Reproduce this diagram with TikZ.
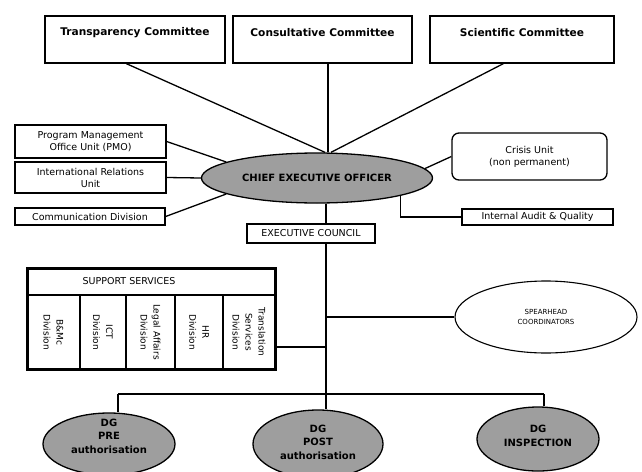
\documentclass[tikz,border=0pt]{standalone}
\usepackage{fontspec}
\setmainfont{DejaVu Sans}
\usetikzlibrary{shapes.geometric,calc}
\definecolor{ellgray}{gray}{0.62}
\tikzset{
  box/.style={draw, line width=1.3pt, rectangle, inner sep=0pt},
  txt/.style={inner sep=0pt, align=center, font=\fontsize{9.5}{12}\selectfont},
  btxt/.style={inner sep=0pt, align=center, font=\fontsize{10}{13.5}\selectfont\bfseries},
  toptxt/.style={inner sep=0pt, align=center, font=\fontsize{10.6}{13}\selectfont\bfseries},
  gell/.style={draw, line width=1.3pt, ellipse, fill=ellgray, inner sep=0pt},
  conn/.style={line width=1.3pt},
  coltxt/.style={inner sep=0pt, align=center, rotate=-90, font=\fontsize{9}{13}\selectfont},
}
\begin{document}
\begin{tikzpicture}[x=1pt,y=-1pt]
\useasboundingbox (0,0) rectangle (642,471);
% top committees
\node[box, minimum width=180, minimum height=47] (trans) at (135,39.5) {};
\node[toptxt] (transt) at (135,33) {Transparency Committee};
\node[box, minimum width=179, minimum height=47] (cons) at (322.5,39.5) {};
\node[toptxt] (const) at (322.5,33) {Consultative Committee};
\node[box, minimum width=184, minimum height=47] (sci) at (522,39.5) {};
\node[toptxt] (scit) at (522,33) {Scientific Committee};
% CEO
\node[gell, minimum width=231, minimum height=50] (ceo) at (317,178) {};
\node[btxt] (ceot) at (317,178) {CHIEF EXECUTIVE OFFICER};
% left boxes
\node[box, minimum width=151, minimum height=33, txt] (pmo) at (90.5,141.5) {Program Management\\Office Unit (PMO)};
\node[box, minimum width=151, minimum height=31, txt] (ir) at (90.5,177.5) {International Relations\\Unit};
\node[box, minimum width=150, minimum height=17, txt] (comm) at (90,216.5) {Communication Division};
% right boxes
\node[draw, line width=1.3pt, rounded corners=7pt, minimum width=155, minimum height=47, txt] (crisis) at (529.5,156.5) {Crisis Unit\\(non permanent)};
\node[box, line width=2.2pt, minimum width=151, minimum height=16, txt] (audit) at (537.5,217) {Internal Audit \& Quality};
% executive council
\node[box, minimum width=128, minimum height=19, txt] (exec) at (311,233.5) {EXECUTIVE COUNCIL};
% support services
\node[box, minimum width=248, minimum height=27] (supph) at (151,281.5) {};
\node[txt] (suppht) at (129,281.5) {SUPPORT SERVICES};
\node[box, minimum width=53, minimum height=74] (c1) at (53.5,332) {};
\node[box, minimum width=46, minimum height=74] (c2) at (103,332) {};
\node[box, minimum width=49, minimum height=74] (c3) at (150.5,332) {};
\node[box, minimum width=48, minimum height=74] (c4) at (199,332) {};
\node[box, minimum width=52, minimum height=74] (c5) at (249,332) {};
\node[coltxt] (c1t) at (c1) {B\&Mc\\Division};
\node[coltxt] (c2t) at (c2) {ICT\\Division};
\node[coltxt] (c3t) at (c3) {Legal Affairs\\Division};
\node[coltxt] (c4t) at (c4) {HR\\Division};
\node[coltxt] (c5t) at (c5) {Translation\\Services\\Division};
\node[draw, line width=3pt, minimum width=248, minimum height=101, inner sep=0pt] (supp) at (151,318.5) {};
% spearhead
\node[draw, line width=1.1pt, ellipse, minimum width=182, minimum height=72, inner sep=0pt] (spear) at (546,317) {};
\node[txt, font=\fontsize{7}{10}\selectfont] (speart) at (546,317) {SPEARHEAD\\COORDINATORS};
% DGs
\node[gell, minimum width=132, minimum height=62] (dgpre) at (109,444) {};
\node[btxt] (dgpret) at (109,436) {DG\\PRE\\authorisation};
\node[gell, minimum width=130, minimum height=68] (dgpost) at (318,444) {};
\node[btxt] (dgpostt) at (318,442) {DG\\POST\\authorisation};
\node[gell, minimum width=122, minimum height=64] (dgins) at (538,439) {};
\node[btxt] (dginst) at (538,436) {DG\\INSPECTION};
% coordinates
\coordinate (spine) at (326,394);
\coordinate (bl) at (118,394);
\coordinate (br) at (544,394);
\coordinate (sj) at (326,347);
\coordinate (spj) at (326,317);
% connectors
\draw[conn] ($(trans.south west)+(82,0)$) -- ($(ceo.north)+(8,0)$);
\draw[conn] ($(cons.south)+(5.5,0)$) -- ($(ceo.north)+(11,0)$);
\draw[conn] ($(sci.south west)+(74,0)$) -- ($(ceo.north)+(14,0)$);
\draw[conn] (pmo.east) -- (ceo.170);
\draw[conn] (ir.east) -- (ceo.west);
\draw[conn] (comm.east) -- (ceo.190);
\draw[conn] (ceo.5) -- (crisis.west);
\draw[conn] (ceo.-12) |- (audit.west);
\draw[conn] (spine |- ceo.south) -- (spine |- exec.north);
\draw[conn] (spine |- exec.south) -- (spine);
\draw[conn] (sj -| supp.east) -- (sj);
\draw[conn] (spj) -- (spear.west);
\draw[conn] (bl) -- (br);
\draw[conn] (bl) -- (bl |- dgpre.north);
\draw[conn] (spine) -- (spine |- dgpost.north);
\draw[conn] (br) -- (br |- dgins.north);
\end{tikzpicture}
\end{document}
